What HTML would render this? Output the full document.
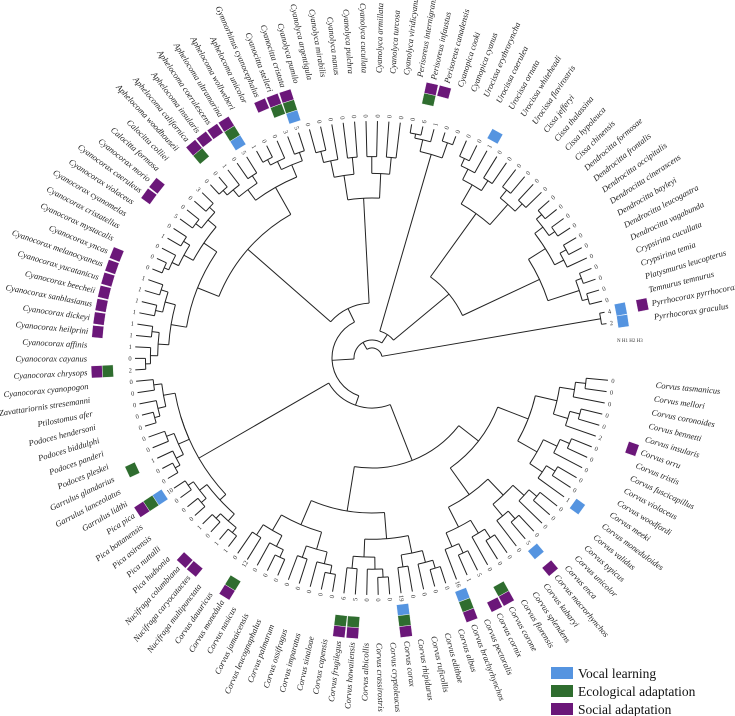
<!DOCTYPE html>
<html><head><meta charset="utf-8"><style>
html,body{margin:0;padding:0;background:#fff;}
svg{display:block;}
#labels text{font-family:"Liberation Serif",serif;font-style:italic;font-size:8.5px;fill:#222;}
#digits text{font-family:"Liberation Serif",serif;font-size:6.5px;fill:#333;}
.lg{font-family:"Liberation Serif",serif;font-size:13.5px;fill:#111;}
</style></head><body>
<svg id="s" width="735" height="716" viewBox="0 0 735 716" xmlns="http://www.w3.org/2000/svg">
<g id="tree" fill="none" stroke="#222" stroke-width="1"></g>
<g id="boxes"></g>
<g id="digits"><text>0</text><text>0</text><text>0</text><text>0</text><text>0</text><text>2</text><text>0</text><text>0</text><text>0</text><text>0</text><text>0</text><text>1</text><text>0</text><text>0</text><text>0</text><text>0</text><text>5</text><text>0</text><text>0</text><text>0</text><text>0</text><text>5</text><text>1</text><text>16</text><text>0</text><text>0</text><text>0</text><text>0</text><text>19</text><text>0</text><text>0</text><text>0</text><text>5</text><text>6</text><text>0</text><text>0</text><text>0</text><text>0</text><text>0</text><text>0</text><text>0</text><text>0</text><text>12</text><text>0</text><text>1</text><text>1</text><text>0</text><text>1</text><text>0</text><text>0</text><text>0</text><text>10</text><text>0</text><text>0</text><text>1</text><text>0</text><text>0</text><text>0</text><text>0</text><text>0</text><text>0</text><text>0</text><text>2</text><text>0</text><text>1</text><text>1</text><text>1</text><text>1</text><text>1</text><text>1</text><text>1</text><text>0</text><text>0</text><text>0</text><text>1</text><text>0</text><text>5</text><text>0</text><text>0</text><text>3</text><text>0</text><text>0</text><text>1</text><text>0</text><text>5</text><text>1</text><text>0</text><text>0</text><text>3</text><text>5</text><text>0</text><text>0</text><text>0</text><text>0</text><text>0</text><text>0</text><text>0</text><text>0</text><text>0</text><text>0</text><text>6</text><text>1</text><text>0</text><text>0</text><text>0</text><text>0</text><text>1</text><text>0</text><text>0</text><text>0</text><text>0</text><text>0</text><text>0</text><text>0</text><text>0</text><text>0</text><text>0</text><text>0</text><text>0</text><text>0</text><text>0</text><text>0</text><text>0</text><text>0</text><text>4</text><text>2</text></g>
<g id="labels"><text>Corvus tasmanicus</text><text>Corvus mellori</text><text>Corvus coronoides</text><text>Corvus bennetti</text><text>Corvus insularis</text><text>Corvus orru</text><text>Corvus tristis</text><text>Corvus fuscicapillus</text><text>Corvus violaceus</text><text>Corvus woodfordi</text><text>Corvus meeki</text><text>Corvus moneduloides</text><text>Corvus validus</text><text>Corvus typicus</text><text>Corvus unicolor</text><text>Corvus enca</text><text>Corvus macrorhynchos</text><text>Corvus kubaryi</text><text>Corvus splendens</text><text>Corvus florensis</text><text>Corvus corone</text><text>Corvus cornix</text><text>Corvus pectoralis</text><text>Corvus brachyrhynchos</text><text>Corvus albus</text><text>Corvus edithae</text><text>Corvus ruficollis</text><text>Corvus rhipidurus</text><text>Corvus corax</text><text>Corvus cryptoleucus</text><text>Corvus crassirostris</text><text>Corvus albicollis</text><text>Corvus hawaiiensis</text><text>Corvus frugilegus</text><text>Corvus capensis</text><text>Corvus sinaloae</text><text>Corvus imparatus</text><text>Corvus ossifragus</text><text>Corvus palmarum</text><text>Corvus leucognaphalus</text><text>Corvus jamaicensis</text><text>Corvus nasicus</text><text>Corvus monedula</text><text>Corvus dauuricus</text><text>Nucifraga multipunctata</text><text>Nucifraga caryocatactes</text><text>Nucifraga columbiana</text><text>Pica hudsonia</text><text>Pica nuttalli</text><text>Pica asirensis</text><text>Pica bottanensis</text><text>Pica pica</text><text>Garrulus lidthi</text><text>Garrulus lanceolatus</text><text>Garrulus glandarius</text><text>Podoces pleskei</text><text>Podoces panderi</text><text>Podoces biddulphi</text><text>Podoces hendersoni</text><text>Ptilostomus afer</text><text>Zavattariornis stresemanni</text><text>Cyanocorax cyanopogon</text><text>Cyanocorax chrysops</text><text>Cyanocorax cayanus</text><text>Cyanocorax affinis</text><text>Cyanocorax heilprini</text><text>Cyanocorax dickeyi</text><text>Cyanocorax sanblasianus</text><text>Cyanocorax beecheii</text><text>Cyanocorax yucatanicus</text><text>Cyanocorax melanocyaneus</text><text>Cyanocorax yncas</text><text>Cyanocorax mystacalis</text><text>Cyanocorax cristatellus</text><text>Cyanocorax cyanomelas</text><text>Cyanocorax violaceus</text><text>Cyanocorax caeruleus</text><text>Cyanocorax morio</text><text>Calocitta formosa</text><text>Calocitta colliei</text><text>Aphelocoma woodhouseii</text><text>Aphelocoma californica</text><text>Aphelocoma insularis</text><text>Aphelocoma coerulescens</text><text>Aphelocoma ultramarina</text><text>Aphelocoma wollweberi</text><text>Aphelocoma unicolor</text><text>Gymnorhinus cyanocephalus</text><text>Cyanocitta stelleri</text><text>Cyanocitta cristata</text><text>Cyanolyca pumilo</text><text>Cyanolyca argentigula</text><text>Cyanolyca mirabilis</text><text>Cyanolyca nanus</text><text>Cyanolyca pulchra</text><text>Cyanolyca cucullata</text><text>Cyanolyca armillata</text><text>Cyanolyca turcosa</text><text>Cyanolyca viridicyanus</text><text>Perisoreus internigrans</text><text>Perisoreus infaustus</text><text>Perisoreus canadensis</text><text>Cyanopica cooki</text><text>Cyanopica cyanus</text><text>Urocissa erythroryncha</text><text>Urocissa caerulea</text><text>Urocissa ornata</text><text>Urocissa whiteheadi</text><text>Urocissa flavirostris</text><text>Cissa jefferyi</text><text>Cissa thalassina</text><text>Cissa hypoleuca</text><text>Cissa chinensis</text><text>Dendrocitta formosae</text><text>Dendrocitta frontalis</text><text>Dendrocitta occipitalis</text><text>Dendrocitta cinerascens</text><text>Dendrocitta bayleyi</text><text>Dendrocitta leucogastra</text><text>Dendrocitta vagabunda</text><text>Crypsirina cucullata</text><text>Crypsirina temia</text><text>Platysmurus leucopterus</text><text>Temnurus temnurus</text><text>Pyrrhocorax pyrrhocorax</text><text>Pyrrhocorax graculus</text></g>
<text x="617" y="342" font-family="Liberation Serif,serif" font-size="5" fill="#333">N  H1 H2 H3</text>
<rect x="551" y="667" width="22" height="12" fill="#5594e0"/>
<rect x="551" y="685" width="22" height="12" fill="#2f6d2f"/>
<rect x="551" y="703" width="22" height="12" fill="#6b1779"/>
<text class="lg" x="578" y="678">Vocal learning</text>
<text class="lg" x="578" y="696">Ecological adaptation</text>
<text class="lg" x="578" y="714">Social adaptation</text>
</svg>
<script>
var CX=372,CY=358,TIP=237;
function th(i){return 5.4+(i-1)*2.77;}
function P(r,a){var t=a*Math.PI/180;return [CX+r*Math.cos(t),CY+r*Math.sin(t)];}
var NS="http://www.w3.org/2000/svg";
var tree=document.getElementById('tree');
function el(n,attrs,parent){var e=document.createElementNS(NS,n);for(var k in attrs)e.setAttribute(k,attrs[k]);parent.appendChild(e);return e;}
function auto(lo,hi,r0){if(lo==hi)return lo;var m=Math.floor((lo+hi)/2);var r1=Math.min(r0+(TIP-r0)*0.32,232);return [r0,auto(lo,m,r1),auto(m+1,hi,r1)];}
var T=[10,
 [232,125,126],
 [18,
   [28,
     [212,auto(100,102,224),auto(103,104,228)],
     [100,[178,auto(105,109,200),auto(110,113,205)],[185,auto(114,120,205),auto(121,124,218)]]
   ],
   [40,
     [50,[110,auto(1,24,135),auto(25,44,155)],[200,auto(45,52,208),auto(53,62,200)]],
     [55,[165,auto(63,80,188),auto(81,90,196)],auto(91,99,160)]
   ]
 ]
];
function draw(n){
  if(typeof n=="number")return {a:th(n),r:TIP};
  var r=n[0],ch=[];for(var i=1;i<n.length;i++)ch.push(draw(n[i]));
  var mn=1e9,mx=-1e9;
  ch.forEach(function(c){var p1=P(r,c.a),p2=P(c.r,c.a);el('line',{x1:p1[0],y1:p1[1],x2:p2[0],y2:p2[1]},tree);mn=Math.min(mn,c.a);mx=Math.max(mx,c.a);});
  var s=P(r,mn),e=P(r,mx);
  el('path',{d:'M'+s[0]+' '+s[1]+' A'+r+' '+r+' 0 '+((mx-mn)>180?1:0)+' 1 '+e[0]+' '+e[1]},tree);
  return {a:(mn+mx)/2,r:r};
}
draw(T);
var L=document.getElementById('labels').children;
for(var i=0;i<L.length;i++){var a=th(i+1),t=L[i];
  if(a>90&&a<270){t.setAttribute('transform','rotate('+(a-180)+' '+CX+' '+CY+')');t.setAttribute('x',CX-285);t.setAttribute('text-anchor','end');}
  else{t.setAttribute('transform','rotate('+a+' '+CX+' '+CY+')');t.setAttribute('x',CX+285);}
  t.setAttribute('y',CY+3);}
var D=document.getElementById('digits').children;
for(var i=0;i<D.length;i++){var a=th(i+1),t=D[i];t.setAttribute('text-anchor','middle');
  if(a>90&&a<270){t.setAttribute('transform','rotate('+(a-180)+' '+CX+' '+CY+')');t.setAttribute('x',CX-242);}
  else{t.setAttribute('transform','rotate('+a+' '+CX+' '+CY+')');t.setAttribute('x',CX+242);}
  t.setAttribute('y',CY+2.3);}
var B={6:'p',12:'b',17:'bp',21:'gp',22:'p',24:'bgp',29:'bgp',33:'gp',34:'gp',43:'gp',46:'p',47:'p',52:'bgp',55:'g',63:'gp',
66:'p',67:'p',68:'p',69:'p',70:'p',71:'p',72:'p',77:'p',78:'p',82:'gp',83:'p',84:'p',85:'bgp',88:'p',89:'gp',90:'bgp',101:'gp',102:'p',107:'b',125:'bp',126:'b'};
var col={b:['#5594e0',248],g:['#2f6d2f',259],p:['#6b1779',270]};
var bg=document.getElementById('boxes');
for(var k in B){var a=th(+k);var h=2*TIP*Math.PI*2.77/360*1.05;
  B[k].split('').forEach(function(c){var cc=col[c];
    el('rect',{x:CX+cc[1],y:CY-h/2,width:11,height:h,fill:cc[0],stroke:'#fff','stroke-width':0.4,transform:'rotate('+a+' '+CX+' '+CY+')'},bg);});}
</script>
</body></html>
